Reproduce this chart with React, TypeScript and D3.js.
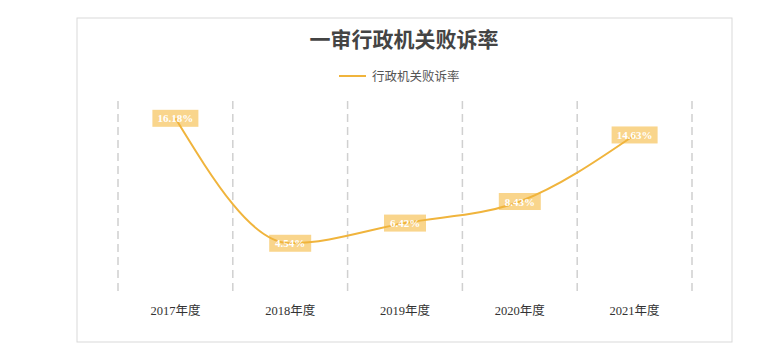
import React from "react";
import * as d3 from "d3";

const categories = ["2017年度", "2018年度", "2019年度", "2020年度", "2021年度"];
const values = [16.18, 4.54, 6.42, 8.43, 14.63];
const seriesName = "行政机关败诉率";
const title = "一审行政机关败诉率";

const W = 759;
const H = 364;

export default function App() {
  const x = d3.scaleBand<string>().domain(categories).range([118, 692]);
  const y = d3.scaleLinear().domain([0, 17.7]).range([292, 102]);
  const line = d3
    .line<number>()
    .x((_, i) => (x(categories[i]) as number) + x.bandwidth() / 2)
    .y((d) => y(d))
    .curve(d3.curveMonotoneX);
  const gridXs = [...categories.map((c) => x(c) as number), 692];
  const serif = "'Liberation Serif','Noto Sans CJK SC',serif";
  const pts = values.map((v, i) => ({
    cx: (x(categories[i]) as number) + x.bandwidth() / 2,
    cy: y(v),
    label: v.toFixed(2) + "%",
  }));
  return (
    <svg width={W} height={H} style={{ position: "absolute", left: 0, top: 0 }}>
      <rect x={0} y={0} width={W} height={H} fill="#fff" />
      <rect x={77} y={18} width={655} height={324} fill="#fff" stroke="#d9d9d9" strokeWidth={1} />
      <text x={404} y={47} textAnchor="middle" fontFamily={serif} fontWeight="bold" fontSize={21} fill="#444">
        {title}
      </text>
      <line x1={339} x2={366} y1={76} y2={76} stroke="#f0b43c" strokeWidth={2} />
      <text x={372} y={80.5} fontFamily={serif} fontSize={12.5} fill="#555">
        {seriesName}
      </text>
      {gridXs.map((gx, i) => (
        <line key={i} x1={gx} x2={gx} y1={101} y2={293} stroke="#d0d0d0" strokeWidth={1.5} strokeDasharray="8,5" />
      ))}
      {pts.map((p, i) => {
        const w = p.label.length > 5 ? 46 : 42;
        return <rect key={i} x={p.cx - w / 2} y={p.cy - 8.5} width={w} height={17} fill="#f8d080" opacity={0.9} />;
      })}
      <path d={line(values) || ""} fill="none" stroke="#f0b43c" strokeWidth={2} />
      {pts.map((p, i) => (
        <text key={i} x={p.cx} y={p.cy + 4} textAnchor="middle" fontFamily={serif} fontWeight="bold" fontSize={11} fill="#fff">
          {p.label}
        </text>
      ))}
      {categories.map((c) => (
        <text key={c} x={(x(c) as number) + x.bandwidth() / 2} y={315} textAnchor="middle" fontFamily={serif} fontSize={12.5} fill="#333">
          {c}
        </text>
      ))}
    </svg>
  );
}
